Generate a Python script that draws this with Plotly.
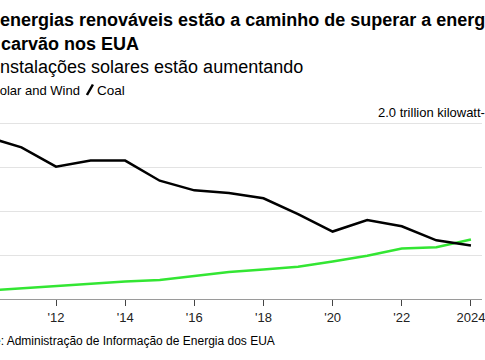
import plotly.graph_objects as go

years = list(range(2010, 2025))
coal = [1.85, 1.73, 1.51, 1.58, 1.58, 1.35, 1.24, 1.21, 1.15, 0.97, 0.77, 0.90, 0.83, 0.67, 0.61]
solar_wind = [0.096, 0.122, 0.145, 0.177, 0.200, 0.216, 0.263, 0.307, 0.337, 0.367, 0.427, 0.493, 0.577, 0.590, 0.68]
tick_vals = [2010, 2012, 2014, 2016, 2018, 2020, 2022, 2024]
tick_text = ["2010", "'12", "'14", "'16", "'18", "'20", "'22", "2024"]

W, H = 485, 360
FONT = "Liberation Sans, Arial, sans-serif"
GREEN = "#33e633"

fig = go.Figure()
fig.add_trace(go.Scatter(x=years, y=solar_wind, mode="lines", name="Solar and Wind",
                         line=dict(color=GREEN, width=2.5), showlegend=False))
fig.add_trace(go.Scatter(x=years, y=coal, mode="lines", name="Coal",
                         line=dict(color="#000000", width=2.5), showlegend=False))

L, R, T, B = 0, 0, 115, 61
pw, ph = W - L - R, H - T - B

def ax(xpix):
    return (xpix - L) / pw

def ay(ypix):
    return 1 - (ypix - T) / ph

texts = [
    ("<b>As energias renováveis estão a caminho de superar a energia</b>", -30, 20, 18),
    ("<b>do carvão nos EUA</b>", -28.5, 44, 18),
    ("Instalações solares estão aumentando", -7, 67, 18),
    ("Solar and Wind", -11.5, 90, 13),
    ("Coal", 95.5, 90, 13.5),
    ("2.0 trillion kilowatt-hours", 378, 112, 13),
    ("Fonte: Administração de Informação de Energia dos EUA", -32, 341, 12),
]
annos = [dict(text=t, xref="paper", yref="paper", x=ax(x), y=ay(y),
              xanchor="left", yanchor="middle", showarrow=False,
              font=dict(family=FONT, size=s, color="#000"))
         for t, x, y, s in texts]

fig.update_layout(
    width=W, height=H,
    margin=dict(l=L, r=R, t=T, b=B, pad=0),
    paper_bgcolor="white", plot_bgcolor="white",
    annotations=annos,
    shapes=[dict(type="line", xref="paper", yref="paper",
                 x0=ax(87.5), x1=ax(93.5), y0=ay(95), y1=ay(84.5),
                 line=dict(color="#000", width=2.5))],
    xaxis=dict(range=[2010.38, 2024.32], tickvals=tick_vals, ticktext=tick_text,
               showgrid=False, zeroline=False, showline=True, linecolor="#9a9a9a", linewidth=1,
               ticks="outside", ticklen=6, tickcolor="#444", tickwidth=1,
               ticklabeloverflow="allow",
               tickfont=dict(family=FONT, size=13, color="#222"), fixedrange=True),
    yaxis=dict(range=[0, 2.1], tickvals=[0.5, 1.0, 1.5, 2.0], showticklabels=False,
               showgrid=True, gridcolor="#e3e3e3", gridwidth=1, zeroline=False, fixedrange=True),
    showlegend=False,
)

fig.write_html("out.html", config={"displayModeBar": False, "staticPlot": True},
               post_script="document.body.style.margin='0';document.body.style.overflow='hidden';")
